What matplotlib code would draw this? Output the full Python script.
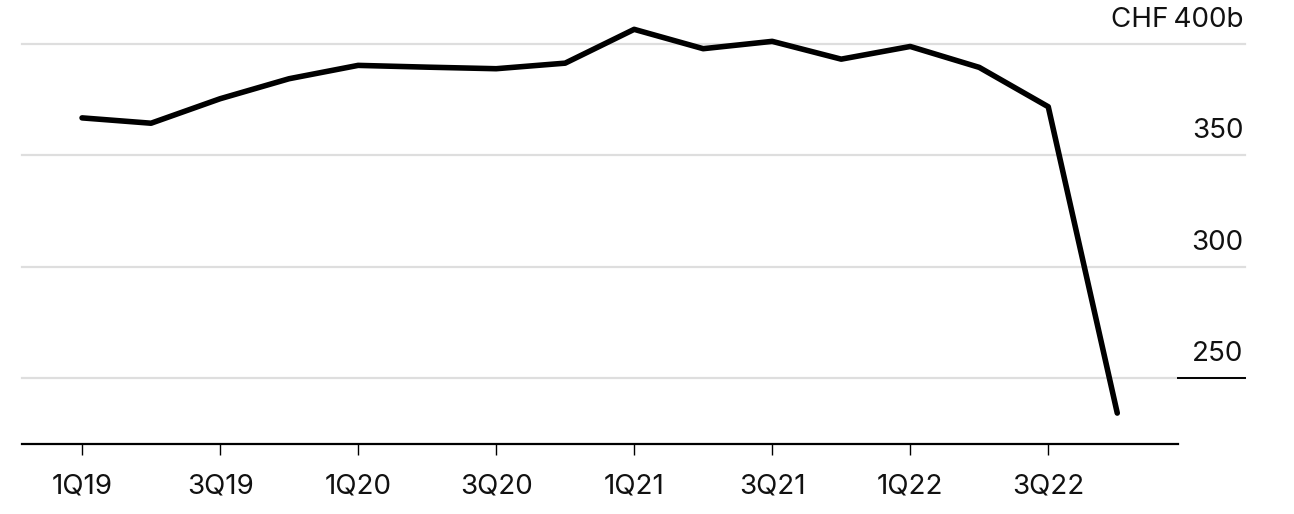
import numpy as np
import matplotlib
matplotlib.use("Agg")
import matplotlib.pyplot as plt
from matplotlib.transforms import blended_transform_factory

plt.rcParams['font.family'] = ['Inter', 'DejaVu Sans']

# quarterly values, CHF billions
quarters = ['1Q19', '2Q19', '3Q19', '4Q19', '1Q20', '2Q20', '3Q20', '4Q20',
            '1Q21', '2Q21', '3Q21', '4Q21', '1Q22', '2Q22', '3Q22', '4Q22']
values = [366.9, 364.5, 375.5, 384.5, 390.5, 389.7, 389.0, 391.5,
          406.7, 398.0, 401.3, 393.3, 399.0, 389.6, 371.9, 234.2]
y_ticks = [250, 300, 350, 400]
y_labels = ['250', '300', '350', 'CHF\u2009400b']

W, H = 1294, 514
fig = plt.figure(figsize=(W / 100, H / 100), dpi=100)
ax = fig.add_axes([22 / W, 1 - 444 / H, (1178 - 22) / W, (444 - 22) / H])

x = np.arange(len(quarters))
ax.set_xlim(-0.87, 15.88)
ax.set_ylim(220.3, 410)

# gridlines run past the plot area under the labels
trans = blended_transform_factory(ax.transAxes, ax.transData)
grid_end = (1245 - 22) / (1178 - 22)
for yv, lab in zip(y_ticks, y_labels):
    ax.plot([0, grid_end], [yv, yv], transform=trans, color='#dedede',
            lw=1.6, clip_on=False, zorder=1)
    ax.annotate(lab, xy=(grid_end, yv), xycoords=trans, xytext=(-1, 8),
                textcoords='offset points', ha='right', va='bottom',
                fontsize=20, color='#111111')
# small black marker at the lowest gridline
ax.plot([1, grid_end], [250, 250], transform=trans, color='black',
        lw=1.4, clip_on=False, zorder=2)

ax.plot(x, values, color='black', lw=4, solid_capstyle='round',
        solid_joinstyle='round', zorder=3)

ax.set_xticks(x[::2])
ax.set_xticklabels(quarters[::2], fontsize=20, color='#111111')
ax.set_yticks([])
ax.tick_params(axis='x', length=8, width=1, color='black', pad=13)

for s in ['top', 'right', 'left']:
    ax.spines[s].set_visible(False)
ax.spines['bottom'].set_linewidth(1.6)

fig.savefig('out.png', dpi=100)
